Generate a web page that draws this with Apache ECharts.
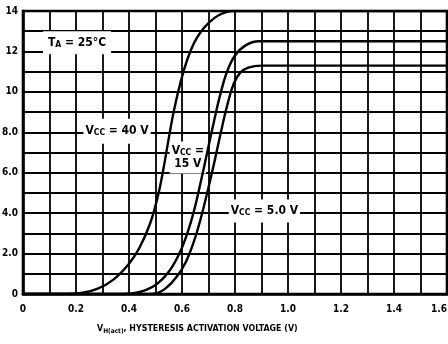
<!DOCTYPE html>
<html>
<head>
<meta charset="utf-8">
<script src="https://cdn.jsdelivr.net/npm/echarts@6/dist/echarts.min.js"></script>
<style>
  html, body { margin: 0; padding: 0; background: #fff; }
  #chart { width: 448px; height: 344px; }
</style>
</head>
<body>
<div id="chart"></div>
<script>
// Hysteresis activation voltage (V) vs. output, one curve per supply voltage
const vh40 = [0, 0.15, 0.22, 0.28, 0.34, 0.4, 0.44, 0.48, 0.51, 0.53, 0.55, 0.57, 0.595, 0.62, 0.645, 0.67, 0.7, 0.74, 0.79, 1.6];
const out40 = [0, 0, 0.05, 0.25, 0.7, 1.5, 2.3, 3.5, 4.9, 6.2, 7.7, 9.1, 10.5, 11.6, 12.4, 12.95, 13.4, 13.8, 14.0, 14.0];

const vh15 = [0, 0.38, 0.44, 0.5, 0.55, 0.59, 0.62, 0.645, 0.67, 0.695, 0.72, 0.745, 0.77, 0.8, 0.84, 0.89, 1.6];
const out15 = [0, 0, 0.1, 0.45, 1.1, 2.0, 3.0, 4.1, 5.5, 7.0, 8.5, 9.9, 11.0, 11.8, 12.3, 12.5, 12.5];

const vh5 = [0, 0.45, 0.5, 0.54, 0.58, 0.615, 0.645, 0.67, 0.695, 0.72, 0.745, 0.77, 0.795, 0.82, 0.85, 0.9, 1.6];
const out5 = [0, 0, 0.03, 0.3, 0.85, 1.6, 2.6, 3.7, 5.0, 6.4, 7.9, 9.3, 10.4, 10.95, 11.2, 11.3, 11.3];

// Axis tick labels (x every 0.2 V, y every 2 units)
const xTickLabels = ['0', '0.2', '0.4', '0.6', '0.8', '1.0', '1.2', '1.4', '1.6'];
const yTickLabels = ['0', '2.0', '4.0', '6.0', '8.0', '10', '12', '14'];

const FONT = '"DejaVu Sans Condensed", "Liberation Sans Narrow", "DejaVu Sans", sans-serif';

const pairs = (xs, ys) => xs.map((x, i) => [x, ys[i]]);

const curve = (name, xs, ys) => ({
  type: 'line',
  name: name,
  data: pairs(xs, ys),
  showSymbol: false,
  smooth: 0.4,
  silent: true,
  z: 5,
  lineStyle: { color: '#000', width: 2.4, cap: 'round', join: 'round' }
});

// Boxed annotations over the grid, anchored in data units
const notes = [
  { at: [0.204, 12.43], text: 'T{s|A} = 25°C', pad: [5, 5] },
  { at: [0.355, 8.05], text: 'V{s|CC} = 40 V', pad: [6, 2] },
  { at: [0.622, 6.75], text: 'V{s|CC} =\n15 V', pad: [3, 2] },
  { at: [0.911, 4.1], text: 'V{s|CC} = 5.0 V', pad: [5, 2] }
];

const subStyle = (size, pad) => ({
  fontFamily: FONT, fontWeight: 'bold', fontSize: size, fill: '#000',
  verticalAlign: 'bottom', padding: [pad, 0, 0, 0]
});

const chart = echarts.init(document.getElementById('chart'), null, { renderer: 'canvas' });

chart.setOption({
  animation: false,
  grid: {
    left: 23, right: 1, top: 11, bottom: 50,
    outerBoundsMode: 'none',
    containLabel: false,
    show: true, borderColor: '#000', borderWidth: 2.6, backgroundColor: '#fff'
  },
  xAxis: {
    type: 'value',
    min: 0, max: 1.6, interval: 0.1,
    axisLine: { show: true, lineStyle: { color: '#000', width: 2.6 } },
    axisTick: { show: false },
    splitLine: { show: true, lineStyle: { color: '#000', width: 1.8 } },
    axisLabel: {
      color: '#000', fontFamily: FONT, fontWeight: 'bold', fontSize: 10, margin: 10,
      showMinLabel: true, showMaxLabel: true,
      alignMaxLabel: 'right',
      formatter: v => {
        const k = Math.round(v * 10);
        return k % 2 ? '' : xTickLabels[k / 2];
      }
    }
  },
  yAxis: {
    type: 'value',
    min: 0, max: 14, interval: 1,
    axisLine: { show: true, lineStyle: { color: '#000', width: 2.6 } },
    axisTick: { show: false },
    splitLine: { show: true, lineStyle: { color: '#000', width: 1.8 } },
    axisLabel: {
      color: '#000', fontFamily: FONT, fontWeight: 'bold', fontSize: 10, margin: 5,
      formatter: v => {
        const k = Math.round(v);
        return k % 2 ? '' : yTickLabels[k / 2];
      }
    }
  },
  series: [
    curve('VCC = 40 V', vh40, out40),
    curve('VCC = 15 V', vh15, out15),
    curve('VCC = 5.0 V', vh5, out5)
  ]
});

// Place the annotation boxes and the axis title once the grid is laid out
const noteGraphics = notes.map(n => {
  const p = chart.convertToPixel({ gridIndex: 0 }, n.at);
  return {
    type: 'text',
    x: p[0], y: p[1],
    z: 3,
    silent: true,
    style: {
      text: n.text,
      fontFamily: FONT, fontWeight: 'bold', fontSize: 12, lineHeight: 13,
      fill: '#000',
      align: 'center', verticalAlign: 'middle',
      backgroundColor: '#fff',
      padding: n.pad,
      rich: { s: subStyle(8.5, 6) }
    }
  };
});

chart.setOption({
  graphic: noteGraphics.concat([{
    type: 'text',
    left: 97, top: 324,
    silent: true,
    style: {
      text: 'V{s|H(act)}, HYSTERESIS ACTIVATION VOLTAGE (V)',
      fontFamily: FONT, fontWeight: 'bold', fontSize: 8.8, fill: '#000',
      rich: { s: subStyle(6.5, 5) }
    }
  }])
});
</script>
</body>
</html>
